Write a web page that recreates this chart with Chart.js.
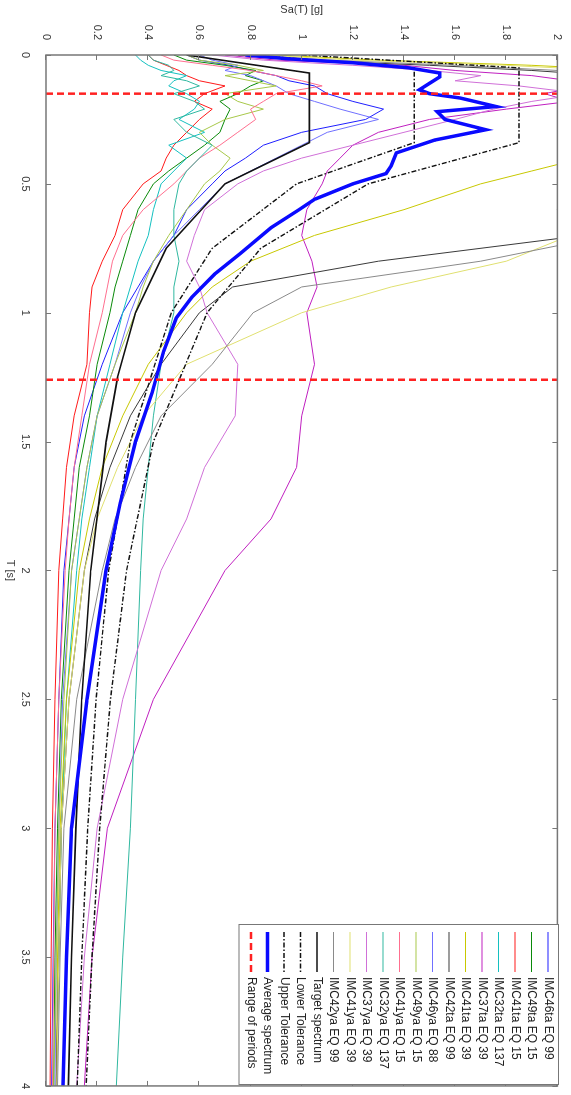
<!DOCTYPE html>
<html>
<head>
<meta charset="utf-8">
<script src="https://cdn.jsdelivr.net/npm/chart.js@4.4.1/dist/chart.umd.min.js"></script>
<style>
  html, body { margin: 0; padding: 0; background: #fff; overflow: hidden; }
  /* the figure is drawn landscape and turned a quarter clockwise */
  #wrap { position: absolute; left: 0; top: 0; width: 1095px; height: 571px;
          transform-origin: 0 0; transform: translate(571px, 0) rotate(90deg); }
</style>
</head>
<body>
<div id="wrap"><canvas id="spectra" width="1095" height="571"></canvas></div>
<script>
// ---- data ----
const tTicks = [0, 0.5, 1, 1.5, 2, 2.5, 3, 3.5, 4];
const saTicks = [0, 0.2, 0.4, 0.6, 0.8, 1, 1.2, 1.4, 1.6, 1.8, 2];

const periods = [0, 0.02, 0.04, 0.06, 0.08, 0.1, 0.12, 0.15, 0.18, 0.21, 0.25, 0.3, 0.35, 0.4, 0.45,
                 0.5, 0.6, 0.7, 0.8, 0.9, 1.0, 1.2, 1.4, 1.6, 1.8, 2.0, 2.5, 3.0, 3.5, 4.0];

const recordNames = ['IMC46ta EQ 99', 'IMC49ta EQ 15', 'IMC41ta EQ 15', 'IMC32ta EQ 137', 'IMC37ta EQ 39',
                     'IMC41ta EQ 39', 'IMC42ta EQ 99', 'IMC46ya EQ 88', 'IMC49ya EQ 15', 'IMC41ya EQ 15',
                     'IMC32ya EQ 137', 'IMC37ya EQ 39', 'IMC41ya EQ 39', 'IMC42ya EQ 99'];

const rec1  = [0.55, 0.6, 0.72, 0.8, 0.9, 0.95, 1.05, 1.1, 1.2, 1.32, 1.25, 1.0, 0.85, 0.78, 0.7, 0.65, 0.55, 0.5, 0.42, 0.36, 0.3, 0.22, 0.15, 0.11, 0.09, 0.07, 0.05, 0.035, 0.028, 0.022];
const rec2  = [0.5, 0.55, 0.7, 0.82, 0.78, 0.85, 0.8, 0.75, 0.68, 0.72, 0.7, 0.68, 0.62, 0.55, 0.48, 0.42, 0.36, 0.33, 0.3, 0.27, 0.25, 0.2, 0.17, 0.13, 0.11, 0.09, 0.06, 0.045, 0.035, 0.03];
const rec3  = [0.4, 0.42, 0.47, 0.52, 0.55, 0.6, 0.7, 0.62, 0.58, 0.65, 0.6, 0.55, 0.5, 0.47, 0.45, 0.38, 0.3, 0.27, 0.22, 0.18, 0.17, 0.16, 0.11, 0.08, 0.065, 0.05, 0.035, 0.025, 0.02, 0.016];
const rec4  = [0.35, 0.37, 0.4, 0.45, 0.55, 0.5, 0.48, 0.55, 0.6, 0.58, 0.52, 0.62, 0.48, 0.55, 0.5, 0.45, 0.42, 0.4, 0.36, 0.33, 0.3, 0.25, 0.2, 0.17, 0.14, 0.12, 0.08, 0.06, 0.05, 0.04];
const rec5  = [0.7, 0.9, 1.4, 1.6, 1.9, 2.05, 2.1, 1.95, 2.05, 1.8, 1.5, 1.3, 1.2, 1.15, 1.1, 1.08, 1.02, 1.0, 1.04, 1.06, 1.02, 1.05, 1.0, 0.98, 0.88, 0.7, 0.42, 0.24, 0.18, 0.15];
const rec6  = [0.9, 1.3, 1.9, 2.3, 2.5, 2.4, 2.6, 2.5, 2.45, 2.6, 2.4, 2.5, 2.3, 2.1, 1.9, 1.7, 1.4, 1.05, 0.8, 0.65, 0.55, 0.4, 0.3, 0.22, 0.17, 0.13, 0.08, 0.055, 0.045, 0.04];
const rec7  = [0.75, 1.0, 1.5, 1.9, 2.2, 2.4, 2.6, 2.8, 2.9, 3.0, 3.1, 3.0, 2.8, 2.7, 2.5, 2.4, 2.0, 2.1, 1.3, 0.73, 0.6, 0.45, 0.33, 0.25, 0.19, 0.15, 0.09, 0.06, 0.05, 0.04];
const rec8  = [0.6, 0.65, 0.75, 0.7, 0.8, 0.85, 0.9, 0.95, 1.05, 1.15, 1.3, 1.1, 1.0, 0.9, 0.8, 0.7, 0.6, 0.5, 0.42, 0.37, 0.33, 0.27, 0.2, 0.16, 0.13, 0.1, 0.065, 0.05, 0.04, 0.035];
const rec9  = [0.55, 0.6, 0.75, 0.85, 0.7, 0.8, 0.9, 0.7, 0.75, 0.85, 0.7, 0.6, 0.65, 0.72, 0.68, 0.62, 0.55, 0.48, 0.42, 0.38, 0.35, 0.27, 0.2, 0.16, 0.13, 0.1, 0.07, 0.05, 0.04, 0.03];
const rec10 = [0.45, 0.5, 0.65, 0.8, 0.9, 1.0, 1.08, 0.9, 0.85, 0.8, 0.82, 0.75, 0.68, 0.6, 0.55, 0.5, 0.38, 0.3, 0.26, 0.24, 0.22, 0.17, 0.14, 0.11, 0.09, 0.075, 0.05, 0.035, 0.03, 0.025];
const rec11 = [0.4, 0.42, 0.48, 0.5, 0.45, 0.55, 0.6, 0.5, 0.58, 0.62, 0.5, 0.55, 0.65, 0.6, 0.55, 0.52, 0.5, 0.5, 0.52, 0.5, 0.5, 0.45, 0.42, 0.4, 0.38, 0.37, 0.35, 0.33, 0.3, 0.275];
const rec12 = [0.65, 0.85, 1.2, 1.5, 1.7, 1.6, 1.85, 2.1, 1.9, 1.75, 1.6, 1.4, 1.2, 1.0, 0.85, 0.75, 0.62, 0.58, 0.55, 0.6, 0.63, 0.75, 0.74, 0.62, 0.55, 0.45, 0.3, 0.2, 0.15, 0.12];
const rec13 = [0.85, 1.2, 1.8, 2.2, 2.4, 2.3, 2.5, 2.3, 2.2, 2.1, 2.3, 2.4, 2.5, 2.6, 2.5, 2.3, 2.2, 2.05, 1.8, 1.35, 1.0, 0.55, 0.38, 0.28, 0.2, 0.15, 0.09, 0.06, 0.05, 0.042];
const rec14 = [0.8, 1.1, 1.6, 2.0, 2.3, 2.5, 2.7, 2.9, 3.2, 3.3, 3.1, 2.9, 2.7, 2.6, 2.5, 2.4, 2.3, 2.2, 1.7, 1.0, 0.81, 0.65, 0.45, 0.35, 0.27, 0.22, 0.12, 0.07, 0.055, 0.045];
const records = [rec1, rec2, rec3, rec4, rec5, rec6, rec7, rec8, rec9, rec10, rec11, rec12, rec13, rec14];

const targetT  = [0, 0.07, 0.34, 0.5, 0.75, 1, 1.25, 1.5, 2, 2.5, 3, 3.5, 4];
const targetSa = [0.55, 1.03, 1.03, 0.70, 0.47, 0.35, 0.28, 0.235, 0.175, 0.14, 0.117, 0.1, 0.0875];

const tolT     = [0, 0.05, 0.34, 0.5, 0.75, 1, 1.5, 2, 2.5, 3, 3.5, 4];
const lowerSa  = [0.8, 1.44, 1.44, 0.98, 0.65, 0.49, 0.33, 0.245, 0.196, 0.163, 0.14, 0.122];
const upperSa  = [1.0, 1.85, 1.85, 1.26, 0.84, 0.63, 0.42, 0.315, 0.252, 0.21, 0.18, 0.157];

const avgT  = [0, 0.015, 0.03, 0.05, 0.07, 0.085, 0.11, 0.135, 0.15, 0.167, 0.2, 0.22, 0.25, 0.29, 0.33, 0.38,
               0.43, 0.46, 0.5, 0.56, 0.6, 0.67, 0.77, 0.85, 0.94, 1.02, 1.15, 1.31, 1.5, 1.74, 2.0, 2.5, 3.0, 3.5, 4.0];
const avgSa = [0.78, 0.95, 1.2, 1.42, 1.54, 1.54, 1.5, 1.46, 1.5, 1.62, 1.76, 1.53, 1.56, 1.72, 1.52, 1.37,
               1.35, 1.33, 1.2, 1.05, 0.99, 0.88, 0.76, 0.66, 0.57, 0.51, 0.46, 0.415, 0.35, 0.29, 0.235, 0.16, 0.1, 0.08, 0.066];

const rangeT = [0.15, 1.26];

// ---- styles ----
const recordColors = ['#1f1fff', '#0a8a0a', '#ff1a1a', '#14c0c0', '#c020c0', '#c8c800', '#3a3a3a',
                      '#7070ff', '#a8c84a', '#ff6f8f', '#30b8a0', '#d070d8', '#e0e070', '#8a8a8a'];
const font = { family: "'Liberation Sans', Arial, sans-serif", size: 11 };
const legendFont = "12px 'Liberation Sans', Arial, sans-serif";
const textColor = '#333';

function pts(xs, ys) {
    return xs.map((x, i) => ({ x: x, y: ys[i] }));
}

const datasets = records.map((r, i) => ({
    label: recordNames[i],
    data: pts(periods, r),
    borderColor: recordColors[i],
    borderWidth: 1,
    order: 100 - i
}));

datasets.push({ label: 'Target spectrum', data: pts(targetT, targetSa), borderColor: '#111', borderWidth: 1.6, order: 5 });
datasets.push({ label: 'Lower Tolerance', data: pts(tolT, lowerSa), borderColor: '#111', borderWidth: 1.4, borderDash: [5, 2, 1.5, 2], order: 4 });
datasets.push({ label: 'Upper Tolerance', data: pts(tolT, upperSa), borderColor: '#111', borderWidth: 1.4, borderDash: [5, 2, 1.5, 2], order: 3 });
datasets.push({ label: 'Average spectrum', data: pts(avgT, avgSa), borderColor: '#0a0aff', borderWidth: 3.5, order: 2 });

const rangePts = [];
rangeT.forEach((t, i) => {
    if (i > 0) rangePts.push({ x: t, y: null });
    rangePts.push({ x: t, y: saTicks[0] }, { x: t, y: saTicks[saTicks.length - 1] });
});
datasets.push({ label: 'Range of periods', data: rangePts, borderColor: '#ff2222', borderWidth: 2.5, borderDash: [7, 4], spanGaps: false, order: 1 });

// ---- box with inward ticks, MATLAB style ----
const framePlugin = {
    id: 'frame',
    afterDatasetsDraw(chart) {
        const { ctx, chartArea: a, scales: { x, y } } = chart;
        ctx.save();
        ctx.strokeStyle = '#777';
        ctx.lineWidth = 1.5;
        ctx.strokeRect(a.left, a.top, a.right - a.left, a.bottom - a.top);
        ctx.lineWidth = 1;
        ctx.beginPath();
        tTicks.forEach(v => {
            const p = Math.round(x.getPixelForValue(v)) + 0.5;
            ctx.moveTo(p, a.bottom); ctx.lineTo(p, a.bottom - 5);
            ctx.moveTo(p, a.top); ctx.lineTo(p, a.top + 5);
        });
        saTicks.forEach(v => {
            const p = Math.round(y.getPixelForValue(v)) + 0.5;
            ctx.moveTo(a.left, p); ctx.lineTo(a.left + 5, p);
            ctx.moveTo(a.right, p); ctx.lineTo(a.right - 5, p);
        });
        ctx.stroke();
        ctx.restore();
    }
};

// ---- legend inside the axes ----
const legendPlugin = {
    id: 'boxLegend',
    afterDraw(chart) {
        const ctx = chart.ctx;
        const sets = chart.data.datasets;
        const u0 = 924, u1 = 1084, v0 = 12, rowH = 16.5;
        const v1 = v0 + sets.length * rowH + 6;
        ctx.save();
        ctx.fillStyle = '#fff';
        ctx.fillRect(u0, v0, u1 - u0, v1 - v0);
        ctx.strokeStyle = '#777';
        ctx.lineWidth = 1;
        ctx.strokeRect(u0 + 0.5, v0 + 0.5, u1 - u0, v1 - v0);
        ctx.font = legendFont;
        ctx.textBaseline = 'middle';
        sets.forEach((d, i) => {
            const v = v0 + 11 + i * rowH;
            ctx.strokeStyle = d.borderColor;
            ctx.lineWidth = d.borderWidth;
            ctx.setLineDash(d.borderDash || []);
            ctx.beginPath();
            ctx.moveTo(u0 + 8, v);
            ctx.lineTo(u0 + 48, v);
            ctx.stroke();
            ctx.setLineDash([]);
            ctx.fillStyle = '#222';
            ctx.fillText(d.label, u0 + 53, v);
        });
        ctx.restore();
    }
};

new Chart(document.getElementById('spectra'), {
    type: 'line',
    data: { datasets: datasets },
    options: {
        responsive: false,
        animation: false,
        devicePixelRatio: 1,
        layout: { padding: { top: 10, right: 8, left: 0, bottom: 0 } },
        elements: { point: { radius: 0 }, line: { tension: 0, fill: false } },
        plugins: { legend: { display: false }, tooltip: { enabled: false } },
        scales: {
            x: {
                type: 'linear', min: 0, max: 4,
                afterBuildTicks: s => { s.ticks = tTicks.map(v => ({ value: v })); },
                afterFit: s => { s.height = 46; },
                grid: { display: false }, border: { display: false },
                ticks: { font: font, color: textColor, padding: 6, maxRotation: 0, callback: v => String(v) },
                title: { display: true, text: 'T [s]', font: font, color: textColor, padding: { top: 0, bottom: 3 } }
            },
            y: {
                type: 'linear', min: 0, max: 2,
                afterBuildTicks: s => { s.ticks = saTicks.map(v => ({ value: v })); },
                afterFit: s => { s.width = 55; },
                grid: { display: false }, border: { display: false },
                ticks: { font: font, color: textColor, padding: 7, callback: v => String(v) },
                title: { display: true, text: 'Sa(T) [g]', font: font, color: textColor, padding: { top: 3, bottom: 0 } }
            }
        }
    },
    plugins: [framePlugin, legendPlugin]
});
</script>
</body>
</html>
